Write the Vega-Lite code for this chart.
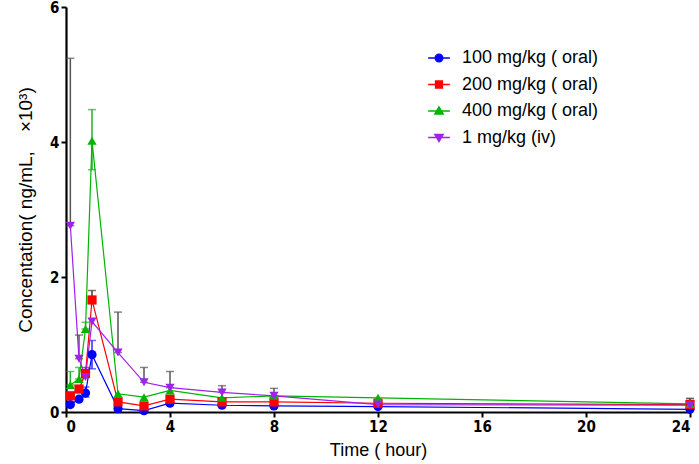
{
  "$schema": "https://vega.github.io/schema/vega-lite/v6.json",
  "width": 624,
  "height": 405,
  "autosize": {"type": "none"},
  "padding": {"left": 66, "top": 7, "right": 9, "bottom": 52},
  "background": "white",
  "config": {
    "view": {"stroke": null},
    "font": "Liberation Sans",
    "axis": {
      "grid": false,
      "domainColor": "black",
      "domainWidth": 2.2,
      "tickColor": "black",
      "tickWidth": 2,
      "tickSize": 5,
      "labelFont": "Liberation Sans Narrow, DejaVu Sans Condensed, Liberation Sans",
      "labelFontWeight": "bold",
      "labelFontSize": 15,
      "labelColor": "black",
      "titleFont": "Liberation Sans",
      "titleFontWeight": "normal",
      "titleFontSize": 18,
      "titleColor": "black"
    }
  },
  "data": {
    "values": [
      {"group": "100 mg/kg ( oral)", "t": 0.167, "c": 0.11},
      {"group": "100 mg/kg ( oral)", "t": 0.5, "c": 0.19},
      {"group": "100 mg/kg ( oral)", "t": 0.75, "c": 0.28, "lo": 0.22, "hi": 0.37},
      {"group": "100 mg/kg ( oral)", "t": 1, "c": 0.85, "lo": 0.64, "hi": 1.06},
      {"group": "100 mg/kg ( oral)", "t": 2, "c": 0.05},
      {"group": "100 mg/kg ( oral)", "t": 3, "c": 0.02},
      {"group": "100 mg/kg ( oral)", "t": 4, "c": 0.13},
      {"group": "100 mg/kg ( oral)", "t": 6, "c": 0.10},
      {"group": "100 mg/kg ( oral)", "t": 8, "c": 0.09},
      {"group": "100 mg/kg ( oral)", "t": 12, "c": 0.08},
      {"group": "100 mg/kg ( oral)", "t": 24, "c": 0.04},
      {"group": "200 mg/kg ( oral)", "t": 0.167, "c": 0.24},
      {"group": "200 mg/kg ( oral)", "t": 0.5, "c": 0.34},
      {"group": "200 mg/kg ( oral)", "t": 0.75, "c": 0.57, "lo": 0.57, "hi": 0.66},
      {"group": "200 mg/kg ( oral)", "t": 1, "c": 1.66, "lo": 1.66, "hi": 1.80},
      {"group": "200 mg/kg ( oral)", "t": 2, "c": 0.15},
      {"group": "200 mg/kg ( oral)", "t": 3, "c": 0.09},
      {"group": "200 mg/kg ( oral)", "t": 4, "c": 0.19},
      {"group": "200 mg/kg ( oral)", "t": 6, "c": 0.15},
      {"group": "200 mg/kg ( oral)", "t": 8, "c": 0.15},
      {"group": "200 mg/kg ( oral)", "t": 12, "c": 0.13},
      {"group": "200 mg/kg ( oral)", "t": 24, "c": 0.11, "lo": 0.11, "hi": 0.20},
      {"group": "400 mg/kg ( oral)", "t": 0.167, "c": 0.40, "lo": 0.40, "hi": 0.60},
      {"group": "400 mg/kg ( oral)", "t": 0.5, "c": 0.49, "lo": 0.49, "hi": 0.66},
      {"group": "400 mg/kg ( oral)", "t": 0.75, "c": 1.23, "lo": 1.23, "hi": 1.33},
      {"group": "400 mg/kg ( oral)", "t": 1, "c": 4.02, "lo": 3.59, "hi": 4.48},
      {"group": "400 mg/kg ( oral)", "t": 2, "c": 0.27},
      {"group": "400 mg/kg ( oral)", "t": 3, "c": 0.22},
      {"group": "400 mg/kg ( oral)", "t": 4, "c": 0.32},
      {"group": "400 mg/kg ( oral)", "t": 6, "c": 0.21},
      {"group": "400 mg/kg ( oral)", "t": 8, "c": 0.24},
      {"group": "400 mg/kg ( oral)", "t": 12, "c": 0.21},
      {"group": "400 mg/kg ( oral)", "t": 24, "c": 0.12},
      {"group": "1 mg/kg (iv)", "t": 0.167, "c": 2.76, "lo": 2.76, "hi": 5.24},
      {"group": "1 mg/kg (iv)", "t": 0.5, "c": 0.79, "lo": 0.79, "hi": 1.14},
      {"group": "1 mg/kg (iv)", "t": 0.75, "c": 0.52},
      {"group": "1 mg/kg (iv)", "t": 1, "c": 1.34},
      {"group": "1 mg/kg (iv)", "t": 2, "c": 0.88, "lo": 0.88, "hi": 1.48},
      {"group": "1 mg/kg (iv)", "t": 3, "c": 0.44, "lo": 0.44, "hi": 0.66},
      {"group": "1 mg/kg (iv)", "t": 4, "c": 0.36, "lo": 0.36, "hi": 0.60},
      {"group": "1 mg/kg (iv)", "t": 6, "c": 0.29, "lo": 0.29, "hi": 0.39},
      {"group": "1 mg/kg (iv)", "t": 8, "c": 0.24, "lo": 0.24, "hi": 0.35},
      {"group": "1 mg/kg (iv)", "t": 12, "c": 0.11},
      {"group": "1 mg/kg (iv)", "t": 24, "c": 0.10, "lo": 0.10, "hi": 0.20}
    ]
  },
  "layer": [
    {
      "transform": [{"filter": "isValid(datum.hi)"}],
      "mark": {"type": "errorbar", "ticks": {"size": 8}, "thickness": 1.5},
      "encoding": {
        "x": {"field": "t", "type": "quantitative", "scale": {"domain": [0, 24], "nice": false, "zero": true},
              "axis": {"values": [0, 4, 8, 12, 16, 20, 24], "title": "Time ( hour)", "titlePadding": 7}},
        "y": {"field": "lo", "type": "quantitative", "scale": {"domain": [0, 6], "nice": false},
              "axis": {"values": [0, 2, 4, 6], "format": "d", "title": "Concentation( ng/mL,\u2003×10³)", "titlePadding": 14, "titleFontSize": 19}},
        "y2": {"field": "hi"},
        "color": {"field": "group", "type": "nominal", "legend": null,
                  "scale": {"domain": ["100 mg/kg ( oral)", "200 mg/kg ( oral)", "400 mg/kg ( oral)", "1 mg/kg (iv)"],
                            "range": ["#2a2aff", "#553333", "#22b022", "#555555"]}}
      }
    },
    {
      "mark": {"type": "line", "strokeWidth": 1.2},
      "encoding": {
        "x": {"field": "t", "type": "quantitative"},
        "y": {"field": "c", "type": "quantitative"},
        "color": {"field": "group", "type": "nominal", "legend": null,
                  "scale": {"domain": ["100 mg/kg ( oral)", "200 mg/kg ( oral)", "400 mg/kg ( oral)", "1 mg/kg (iv)"],
                            "range": ["#0000ff", "#ff0000", "#00b400", "#a020f0"]}}
      }
    },
    {
      "mark": {"type": "point", "filled": true, "opacity": 1, "size": 85},
      "encoding": {
        "x": {"field": "t", "type": "quantitative"},
        "y": {"field": "c", "type": "quantitative"},
        "color": {"field": "group", "type": "nominal", "legend": null,
                  "scale": {"domain": ["100 mg/kg ( oral)", "200 mg/kg ( oral)", "400 mg/kg ( oral)", "1 mg/kg (iv)"],
                            "range": ["#0000ff", "#ff0000", "#00b400", "#a020f0"]}},
        "shape": {"field": "group", "type": "nominal", "legend": null,
                  "scale": {"domain": ["100 mg/kg ( oral)", "200 mg/kg ( oral)", "400 mg/kg ( oral)", "1 mg/kg (iv)"],
                            "range": ["circle", "square", "triangle-up", "triangle-down"]}}
      }
    },
    {
      "transform": [{"filter": "false"}],
      "mark": {"type": "point", "filled": true, "opacity": 1, "strokeWidth": 1.3},
      "encoding": {
        "x": {"field": "t", "type": "quantitative"},
        "y": {"field": "c", "type": "quantitative"},
        "fill": {"field": "group", "type": "nominal",
                 "scale": {"domain": ["100 mg/kg ( oral)", "200 mg/kg ( oral)", "400 mg/kg ( oral)", "1 mg/kg (iv)"],
                           "range": ["#0000ff", "#ff0000", "#00b400", "#a020f0"]},
                 "legend": {"title": null, "orient": "none", "legendX": 364, "legendY": 42, "symbolSize": 60,
                            "labelFont": "Liberation Sans", "labelFontSize": 18, "labelColor": "black",
                            "labelOffset": 14, "rowPadding": 8.5, "symbolStrokeWidth": 1.3, "symbolOpacity": 1}},
        "stroke": {"field": "group", "type": "nominal",
                   "scale": {"domain": ["100 mg/kg ( oral)", "200 mg/kg ( oral)", "400 mg/kg ( oral)", "1 mg/kg (iv)"],
                             "range": ["#0000ff", "#ff0000", "#00b400", "#a020f0"]},
                   "legend": {"title": null, "orient": "none", "legendX": 364, "legendY": 42, "symbolSize": 60,
                              "labelFont": "Liberation Sans", "labelFontSize": 18, "labelColor": "black",
                              "labelOffset": 14, "rowPadding": 8.5, "symbolStrokeWidth": 1.3, "symbolOpacity": 1}},
        "shape": {"field": "group", "type": "nominal",
                  "scale": {"domain": ["100 mg/kg ( oral)", "200 mg/kg ( oral)", "400 mg/kg ( oral)", "1 mg/kg (iv)"],
                            "range": ["M-2.8,0H2.8M1,0A1,1,0,1,0,-1,0A1,1,0,1,0,1,0Z", "M-2.8,0H2.8M-0.9,-0.9H0.9V0.9H-0.9Z", "M-2.8,0H2.8M0,-1.1L1.1,0.8H-1.1Z", "M-2.8,0H2.8M0,1.1L1.1,-0.8H-1.1Z"]},
                  "legend": {"title": null, "orient": "none", "legendX": 364, "legendY": 42, "symbolSize": 60,
                             "labelFont": "Liberation Sans", "labelFontSize": 18, "labelColor": "black",
                             "labelOffset": 14, "rowPadding": 8.5, "symbolStrokeWidth": 1.3, "symbolOpacity": 1}}
      }
    }
  ],
  "resolve": {"scale": {"color": "independent", "shape": "independent", "fill": "independent", "stroke": "independent"}}
}
